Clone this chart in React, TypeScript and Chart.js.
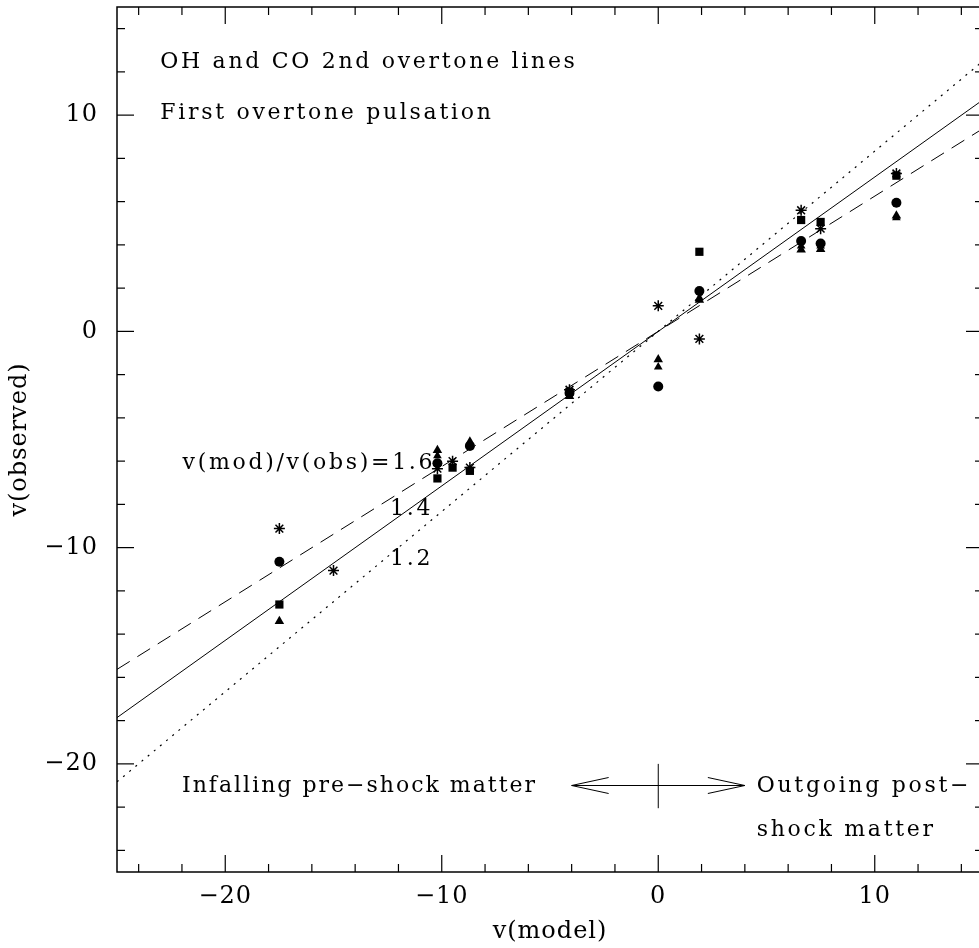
import React, { useEffect, useRef } from "react";
import { Chart, registerables } from "chart.js";

Chart.register(...registerables);

// ---- data ----
const xCircle = [-17.5, -10.2, -8.7, -4.1, 0.0, 1.9, 6.6, 7.5, 11.0];
const yCircle = [-10.65, -6.1, -5.3, -2.85, -2.55, 1.87, 4.18, 4.06, 5.95];

const xSquare = [-17.5, -10.2, -9.5, -8.7, -4.1, 1.9, 6.6, 7.5, 11.0];
const ySquare = [-12.63, -6.8, -6.3, -6.45, -2.8, 3.68, 5.15, 5.06, 7.2];

const xTriangle = [-17.5, -10.2, -8.7, -4.1, 0.0, 1.9, 6.6, 7.5, 11.0];
const yTriangle = [-13.4, -5.5, -5.1, -3.0, -1.3, 1.45, 3.77, 3.8, 5.35];

const xTriangle2 = [-10.2, 0.0, 1.9, 6.6, 7.5, 11.0];
const yTriangle2 = [-5.75, -1.65, 1.55, 3.95, 3.95, 5.25];

const xStar = [-17.5, -15.0, -10.2, -9.5, -8.7, -4.1, 0.0, 1.9, 6.6, 7.5, 11.0];
const yStar = [-9.12, -11.06, -6.35, -6.0, -6.3, -2.7, 1.18, -0.35, 5.6, 4.75, 7.3];

// model lines v(obs) = v(mod)/ratio, end points at x = -25 and 15
const lineX = [-25, 15];
const lineY12 = [-20.83, 12.5];
const lineY14 = [-17.86, 10.71];
const lineY16 = [-15.63, 9.38];

const xTickValues = [-20, -10, 0, 10];
const yTickValues = [-20, -10, 0, 10];

const FONT = "'DejaVu Serif', serif";

const pts = (xs: number[], ys: number[]) => xs.map((x, i) => ({ x, y: ys[i] }));
const fmt = (v: number) => (v < 0 ? "\u2212" + Math.abs(v) : String(v));

const noPad = (s: any) => {
  s.paddingTop = 0;
  s.paddingBottom = 0;
  s.paddingLeft = 0;
  s.paddingRight = 0;
};

const framePlugin = {
  id: "frame",
  beforeDraw(chart: any) {
    (chart.ctx as any).letterSpacing = "1px";
  },
  afterDatasetsDraw(chart: any) {
    const { ctx, chartArea: a, scales } = chart;
    const xs = scales.x;
    const ys = scales.y;
    const line = (x1: number, y1: number, x2: number, y2: number) => {
      ctx.beginPath();
      ctx.moveTo(x1, y1);
      ctx.lineTo(x2, y2);
      ctx.stroke();
    };
    ctx.save();
    ctx.strokeStyle = "#000";
    ctx.lineWidth = 1.5;
    ctx.strokeRect(a.left, a.top, a.right - a.left, a.bottom - a.top);
    ctx.lineWidth = 1.2;
    for (let v = -24; v <= 14; v += 2) {
      const len = v % 10 === 0 ? 17 : 8;
      const px = xs.getPixelForValue(v);
      line(px, a.bottom, px, a.bottom - len);
      line(px, a.top, px, a.top + len);
      const py = ys.getPixelForValue(v);
      line(a.left, py, a.left + len, py);
      line(a.right, py, a.right - len, py);
    }

    // text annotations
    ctx.fillStyle = "#000";
    ctx.textBaseline = "middle";
    (ctx as any).letterSpacing = "2.7px";
    ctx.font = `22px ${FONT}`;
    const text = (s: string, vx: number, vy: number, align: CanvasTextAlign) => {
      ctx.textAlign = align;
      ctx.fillText(s, xs.getPixelForValue(vx), ys.getPixelForValue(vy));
    };
    text("OH and CO 2nd overtone lines", -23.0, 12.45, "left");
    text("First overtone pulsation", -23.0, 10.1, "left");
    text("v(mod)/v(obs)=1.6", -10.3, -6.12, "right");
    text("1.4", -10.4, -8.24, "right");
    text("1.2", -10.4, -10.55, "right");
    (ctx as any).letterSpacing = "2px";
    text("Infalling pre\u2212shock matter", -5.6, -21.04, "right");
    (ctx as any).letterSpacing = "2.7px";
    text("Outgoing post\u2212", 4.55, -21.04, "left");
    text("shock matter", 4.55, -23.07, "left");

    // arrow
    ctx.lineWidth = 1;
    const ay = ys.getPixelForValue(-21);
    const l = xs.getPixelForValue(-4);
    const r = xs.getPixelForValue(4);
    const c = xs.getPixelForValue(0);
    line(l, ay, r, ay);
    line(c, ys.getPixelForValue(-20), c, ys.getPixelForValue(-22.05));
    line(l, ay, l + 37, ay - 8);
    line(l, ay, l + 37, ay + 8);
    line(r, ay, r - 37, ay - 8);
    line(r, ay, r - 37, ay + 8);
    ctx.restore();
  },
};

export default function App() {
  const ref = useRef<HTMLCanvasElement>(null);
  useEffect(() => {
    if (!ref.current) return;
    const black = "#000";
    const chart = new Chart(ref.current, {
      type: "scatter",
      data: {
        datasets: [
          {
            data: pts(lineX, lineY12),
            showLine: true,
            borderColor: black,
            borderWidth: 1.2,
            borderDash: [2, 6],
            pointRadius: 0,
          },
          {
            data: pts(lineX, lineY14),
            showLine: true,
            borderColor: black,
            borderWidth: 1,
            pointRadius: 0,
          },
          {
            data: pts(lineX, lineY16),
            showLine: true,
            borderColor: black,
            borderWidth: 1,
            borderDash: [15, 9],
            pointRadius: 0,
          },
          {
            data: pts(xCircle, yCircle),
            pointStyle: "circle",
            pointRadius: 5,
            backgroundColor: black,
            borderColor: black,
            borderWidth: 0,
          },
          {
            data: pts(xSquare, ySquare),
            pointStyle: "rect",
            pointRadius: 5.8,
            backgroundColor: black,
            borderColor: black,
            borderWidth: 0,
          },
          {
            data: pts(xTriangle, yTriangle),
            pointStyle: "triangle",
            pointRadius: 5.5,
            backgroundColor: black,
            borderColor: black,
            borderWidth: 0,
          },
          {
            data: pts(xTriangle2, yTriangle2),
            pointStyle: "triangle",
            pointRadius: 5,
            backgroundColor: black,
            borderColor: black,
            borderWidth: 0,
          },
          {
            data: pts(xStar, yStar),
            pointStyle: "star",
            pointRadius: 5.5,
            backgroundColor: black,
            borderColor: black,
            borderWidth: 1.5,
          },
        ],
      },
      options: {
        responsive: false,
        animation: false,
        devicePixelRatio: 1,
        layout: { padding: { top: 5, right: 2, left: 0, bottom: 0 } },
        plugins: { legend: { display: false }, tooltip: { enabled: false } },
        scales: {
          x: {
            type: "linear",
            min: -25,
            max: 15,
            grid: { display: false, drawTicks: false },
            border: { display: false },
            afterBuildTicks: (s: any) => {
              s.ticks = xTickValues.map((v) => ({ value: v }));
            },
            afterFit: (s: any) => {
              s.height = 76;
              noPad(s);
            },
            ticks: {
              color: black,
              padding: 10,
              maxRotation: 0,
              font: { family: FONT, size: 24 },
              callback: (v: any) => fmt(Number(v)),
            },
            title: {
              display: true,
              text: "v(model)",
              color: black,
              font: { family: FONT, size: 24 },
              padding: { top: 0, bottom: 2 },
            },
          },
          y: {
            type: "linear",
            min: -25,
            max: 15,
            grid: { display: false, drawTicks: false },
            border: { display: false },
            afterBuildTicks: (s: any) => {
              s.ticks = yTickValues.map((v) => ({ value: v }));
            },
            afterFit: (s: any) => {
              s.width = 117;
              noPad(s);
            },
            ticks: {
              color: black,
              padding: 19,
              font: { family: FONT, size: 24 },
              callback: (v: any) => fmt(Number(v)),
            },
            title: {
              display: true,
              text: "v(observed)",
              color: black,
              font: { family: FONT, size: 24 },
              padding: { top: 5, bottom: 0 },
            },
          },
        },
      },
      plugins: [framePlugin],
    } as any);
    return () => chart.destroy();
  }, []);
  return (
    <div
      style={{
        position: "fixed",
        left: 0,
        top: 0,
        width: 979,
        height: 948,
        overflow: "hidden",
        background: "#fff",
      }}
    >
      <canvas ref={ref} width={990} height={948} style={{ display: "block" }} />
    </div>
  );
}
